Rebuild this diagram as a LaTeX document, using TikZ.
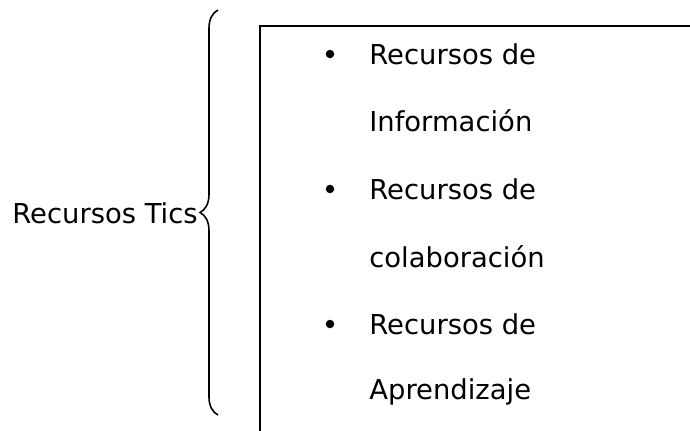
\documentclass[tikz,border=0pt]{standalone}
\usepackage{fontspec}
\setmainfont{DejaVu Sans}
\usetikzlibrary{decorations.pathreplacing}

\begin{document}
\begin{tikzpicture}[x=0.02cm, y=-0.02cm, every node/.style={font=\fontsize{15.6}{18}\selectfont, inner sep=0pt},
                    item/.style={anchor=west}, dot/.style={circle, fill, minimum size=0.17cm}]
                \useasboundingbox (0,0) rectangle (690,430);
                \clip (0,0) rectangle (690,430);

                \node[anchor=east] (tics) at (198,213) {Recursos Tics};
                \coordinate (bl) at (218,415);
                \coordinate (tl) at (218,10);
                \draw[line width=0.9pt, decorate, decoration={brace, amplitude=0.36cm}] (bl) -- (tl);

                % caja
                \draw[line width=1.3pt] (700,26) -- (260,26) -- (260,440);

                % lista
                \node[dot] (d1) at (330,54) {};
                \node[item] (r1) at (369,54) {Recursos de};
                \node[item] (i1) at (369,121) {Información};
                \node[dot] (d2) at (330,189) {};
                \node[item] (r2) at (369,189) {Recursos de};
                \node[item] (i2) at (369,257) {colaboración};
                \node[dot] (d3) at (330,324) {};
                \node[item] (r3) at (369,324) {Recursos de};
                \node[item] (i3) at (369,392) {Aprendizaje};
            \end{tikzpicture}
\end{document}
